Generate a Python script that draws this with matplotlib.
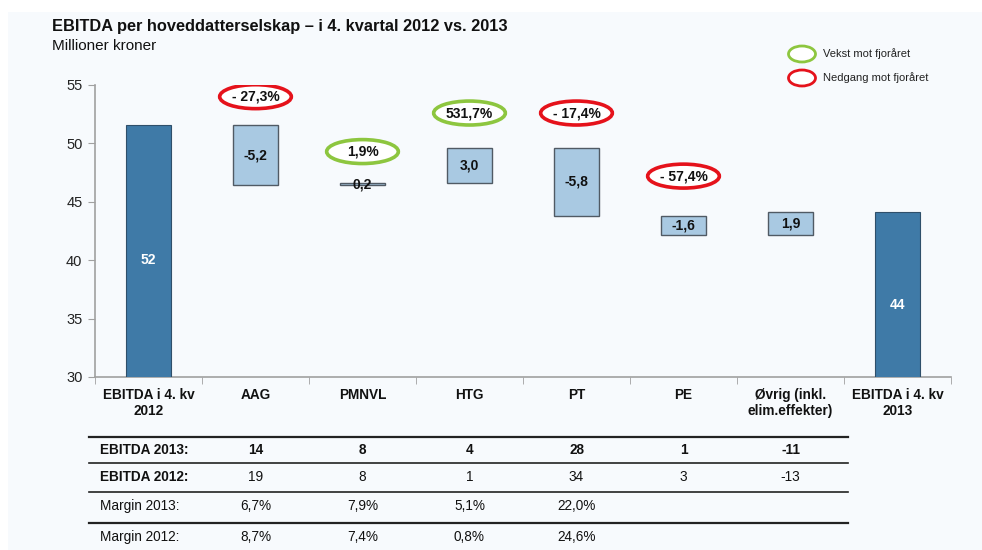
import matplotlib
matplotlib.use('Agg')
import matplotlib.pyplot as plt
from matplotlib.patches import Ellipse, Rectangle
from matplotlib.lines import Line2D
import matplotlib.transforms as mtrans
import numpy as np

plt.rcParams['font.family'] = ['Liberation Sans', 'DejaVu Sans']

# data
categories = ['EBITDA i 4. kv\n2012', 'AAG', 'PMNVL', 'HTG', 'PT', 'PE',
              'Øvrig (inkl.\nelim.effekter)', 'EBITDA i 4. kv\n2013']
start_val = 51.6
deltas = [-5.2, 0.2, 3.0, -5.8, -1.6, 1.9]
delta_labels = ['-5,2', '0,2', '3,0', '-5,8', '-1,6', '1,9']
start_label = '52'
end_label = '44'
pct_labels = ['- 27,3%', '1,9%', '531,7%', '- 17,4%', '- 57,4%', None]
pct_growth = [False, True, True, False, False, None]
pct_y = [54.0, 49.3, 52.6, 52.6, 47.2, None]

row_names = ['EBITDA 2013:', 'EBITDA 2012:', 'Margin 2013:', 'Margin 2012:']
ebitda_2013 = ['14', '8', '4', '28', '1', '-11']
ebitda_2012 = ['19', '8', '1', '34', '3', '-13']
margin_2013 = ['6,7%', '7,9%', '5,1%', '22,0%', '', '']
margin_2012 = ['8,7%', '7,4%', '0,8%', '24,6%', '', '']

bg = '#f7fafd'
dark = '#3f7aa7'
light = '#a9c9e2'
red = '#e5121b'
green = '#8dc63f'

W, H = 982, 550
fig = plt.figure(figsize=(W/100, H/100), dpi=100)
fig.patch.set_facecolor('white')
fig.patches.append(Rectangle((8/W, 0), 1, 1-12/H, transform=fig.transFigure,
                             facecolor=bg, edgecolor='none', zorder=-10))

ax = fig.add_axes([95/W, (H-377)/H, 856/W, 292/H])
ax.set_facecolor(bg)
ax.patch.set_alpha(0)

n = len(categories)
x = np.arange(n)
bw = 0.42

# waterfall
ax.bar(0, start_val, width=bw, color=dark, edgecolor='#2f4f6a', lw=0.8, zorder=3)
ax.text(0, 40, start_label, ha='center', va='center', color='white',
        fontsize=10, fontweight='bold', zorder=4)
level = start_val
for i, d in enumerate(deltas):
    lo = min(level, level + d)
    ax.bar(i + 1, abs(d), bottom=lo, width=bw, color=light, edgecolor='#505a64',
           lw=1.0, zorder=3)
    ax.text(i + 1, lo + abs(d)/2, delta_labels[i], ha='center', va='center',
            fontsize=10, fontweight='bold', color='#111111', zorder=4)
    if pct_labels[i]:
        ec = green if pct_growth[i] else red
        ax.add_patch(Ellipse((i + 1, pct_y[i]), 0.67, 2.05, facecolor='white',
                             edgecolor=ec, lw=2.6, zorder=5))
        ax.text(i + 1, pct_y[i], pct_labels[i], ha='center', va='center',
                fontsize=10, fontweight='bold', color='#111111', zorder=6)
    level += d
ax.bar(n - 1, level, width=bw, color=dark, edgecolor='#2f4f6a', lw=0.8, zorder=3)
ax.text(n - 1, 36.2, end_label, ha='center', va='center', color='white',
        fontsize=10, fontweight='bold', zorder=4)

ax.set_ylim(30, 55)
ax.set_xlim(-0.5, n - 0.5)
ax.set_yticks([30, 35, 40, 45, 50, 55])
ax.tick_params(axis='y', labelsize=10.5, colors='#222222', length=5, color='#a0a0a0', pad=4)
ax.set_xticks(np.arange(n + 1) - 0.5, minor=True)
ax.set_xticks(x)
ax.set_xticklabels(categories, fontsize=9.8, fontweight='bold', color='#111111')
ax.tick_params(axis='x', which='major', length=0, pad=8)
ax.tick_params(axis='x', which='minor', length=5, color='#a0a0a0')
for s in ['top', 'right']:
    ax.spines[s].set_visible(False)
for s in ['left', 'bottom']:
    ax.spines[s].set_color('#a0a0a0')
    ax.spines[s].set_linewidth(1.2)

# title
fig.text(52/W, 1 - 27/H, 'EBITDA per hoveddatterselskap – i 4. kvartal 2012 vs. 2013',
         fontsize=11.8, fontweight='bold', va='center', ha='left', color='#111111')
fig.text(52/W, 1 - 46/H, 'Millioner kroner', fontsize=11, va='center', ha='left',
         color='#111111')

# legend
for yy, col, lab in [(54, green, 'Vekst mot fjoråret'), (78, red, 'Nedgang mot fjoråret')]:
    fig.patches.append(Ellipse((802/W, 1 - yy/H), 27/W, 16/H, transform=fig.transFigure,
                               facecolor='white', edgecolor=col, lw=2, zorder=5))
    fig.text(823/W, 1 - yy/H, lab, fontsize=8, va='center', ha='left', color='#222222')

# table below
tr = mtrans.blended_transform_factory(ax.transData, fig.transFigure)
rows = [ebitda_2013, ebitda_2012, margin_2013, margin_2012]
row_y = [450, 477, 506, 537]
label_bold = [True, True, False, False]
value_bold = [True, False, False, False]
for r, vals in enumerate(rows):
    fig.text(100/W, 1 - row_y[r]/H, row_names[r], fontsize=9.8,
             fontweight='bold' if label_bold[r] else 'normal',
             va='center', ha='left', color='#111111')
    for j, v in enumerate(vals):
        ax.text(j + 1, 1 - row_y[r]/H, v, transform=tr, fontsize=9.8,
                fontweight='bold' if value_bold[r] else 'normal',
                va='center', ha='center', color='#111111', clip_on=False)
for ly, lw in [(437, 1.6), (463, 1.2), (492, 1.2), (523, 1.6)]:
    fig.add_artist(Line2D([89/W, 848/W], [1 - ly/H, 1 - ly/H], transform=fig.transFigure,
                          color='#222222', lw=lw))

fig.savefig('out.png', dpi=100, facecolor=fig.get_facecolor())
